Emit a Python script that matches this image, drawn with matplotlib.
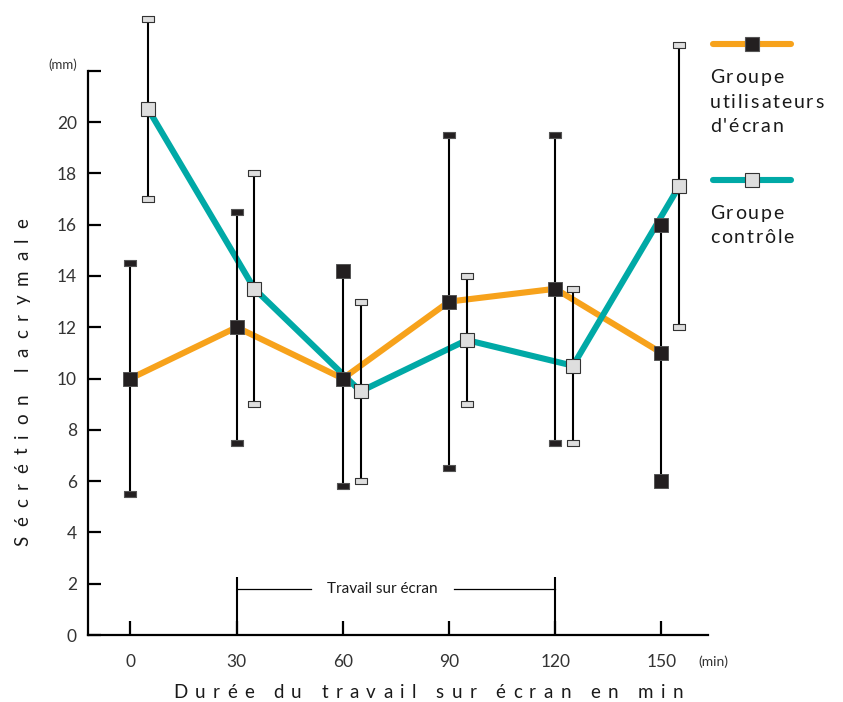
import numpy as np
import matplotlib
matplotlib.use("Agg")
import matplotlib.pyplot as plt
from matplotlib.path import Path
from matplotlib.lines import Line2D

plt.rcParams["font.family"] = ["Lato", "DejaVu Sans"]

# tear secretion (mm) over time, screen users vs. control group
time = [0, 30, 60, 90, 120, 150]
control_time = [5, 35, 65, 95, 125, 155]

screen_mean = [10, 12, 10, 13, 13.5, 11]
screen_low = [5.5, 7.5, 5.8, 6.5, 7.5, 6]
screen_high = [14.5, 16.5, 14.2, 19.5, 19.5, 16]
# ends drawn as full squares instead of flat caps
screen_low_full = [False, False, False, False, False, True]
screen_high_full = [False, False, True, False, False, True]

control_mean = [20.5, 13.5, 9.5, 11.5, 10.5, 17.5]
control_low = [17, 9, 6, 9, 7.5, 12]
control_high = [24, 18, 13, 14, 13.5, 23]

yticks = [0, 2, 4, 6, 8, 10, 12, 14, 16, 18, 20, 22]
ytick_labels = ["0", "2", "4", "6", "8", "10", "12", "14", "16", "18", "20", "(mm)"]
xticks = [0, 30, 60, 90, 120, 150]
work_start, work_end = 30, 120

ORANGE = "#F7A21B"
TEAL = "#00A9A6"
DARK = "#231F20"
LIGHT = "#DEDEDE"
TXT = "#1a1a1a"

W, H = 843, 702
fig = plt.figure(figsize=(W / 100, H / 100), dpi=100)
renderer = fig.canvas.get_renderer()
ax = fig.add_axes([88 / W, 67 / H, 619.5 / W, 635 / H])
ax.set_xlim(-12, 163)
ax.set_ylim(0, 24.76)

for s in ["top", "right"]:
    ax.spines[s].set_visible(False)
ax.spines["left"].set_bounds(0, 22)
ax.spines["left"].set_linewidth(1.6)
ax.spines["bottom"].set_linewidth(1.6)

ax.set_yticks(yticks)
ax.set_yticklabels(ytick_labels)
ax.tick_params(axis="y", direction="in", length=9, width=1.6, pad=8, labelsize=12.5,
               labelcolor="#333333")
ax.get_yticklabels()[-1].set_fontsize(9.5)
ax.get_yticklabels()[-1].set_va("bottom")

ax.set_xticks(xticks)
ax.set_xticklabels([str(t) for t in xticks])
ax.tick_params(axis="x", direction="in", length=10, width=1.6, pad=14, labelsize=12.5,
               labelcolor="#333333")
ax.text(160.5, -1.05, "(min)", fontsize=10, ha="left", va="center", color="#333333",
        clip_on=False)

# screen work bracket
for t in (work_start, work_end):
    ax.plot([t, t], [0, 2.26], color="black", lw=1.5, solid_capstyle="butt")
ax.plot([work_start, 51], [1.8, 1.8], color="black", lw=0.9)
ax.plot([91.5, work_end], [1.8, 1.8], color="black", lw=0.9)
ax.text((work_start + work_end) / 2 - 4, 1.8, "Travail sur écran", fontsize=11,
        ha="center", va="center", color=TXT)

# flat cap marker (2:1 rectangle)
cap = Path([(-1, -0.5), (1, -0.5), (1, 0.5), (-1, 0.5), (-1, -0.5)],
           [Path.MOVETO, Path.LINETO, Path.LINETO, Path.LINETO, Path.CLOSEPOLY])

# mean lines
ax.plot(time, screen_mean, color=ORANGE, lw=4.4, zorder=2, solid_joinstyle="miter")
ax.plot(control_time, control_mean, color=TEAL, lw=4.4, zorder=3, solid_joinstyle="miter")


def draw_errors(xs, lo, hi, face, edge, lo_full=None, hi_full=None):
    for i, x in enumerate(xs):
        ax.plot([x, x], [lo[i], hi[i]], color="black", lw=1.5, zorder=4)
        for val, full in ((lo[i], lo_full and lo_full[i]), (hi[i], hi_full and hi_full[i])):
            if full:
                ax.plot(x, val, marker="s", ms=9.5, mfc=face, mec=edge, mew=0.7,
                        zorder=6, clip_on=False)
            else:
                ax.plot(x, val, marker=cap, ms=9, mfc=face, mec=edge, mew=0.8,
                        zorder=6, clip_on=False)


draw_errors(time, screen_low, screen_high, DARK, "#555555", screen_low_full, screen_high_full)
draw_errors(control_time, control_low, control_high, LIGHT, "#333333")

ax.plot(time, screen_mean, ls="none", marker="s", ms=9.5, mfc=DARK, mec="#555555",
        mew=0.7, zorder=7)
ax.plot(control_time, control_mean, ls="none", marker="s", ms=9.5, mfc=LIGHT,
        mec="#333333", mew=0.8, zorder=7)


def fx(px):
    return px / W


def fy(py):
    return 1 - py / H


def advance(ch, size):
    # horizontal advance of one glyph, in pixels
    if ch == " ":
        a = fig.text(0, 0, "n n", fontsize=size)
        b = fig.text(0, 0, "nn", fontsize=size)
        w = a.get_window_extent(renderer).width - b.get_window_extent(renderer).width
        a.remove()
        b.remove()
        return w
    t = fig.text(0, 0, ch, fontsize=size)
    w = t.get_window_extent(renderer).width
    t.remove()
    return w


def tracked_text(x0, y0, s, size, track, vertical=False, total=None):
    # lay out characters one by one with extra letter spacing (pixels)
    widths = [advance(c, size) for c in s]
    if total is not None:
        track = (total - sum(widths)) / (len(s) - 1)
    pos = 0.0
    for c, w in zip(s, widths):
        if c != " ":
            if vertical:
                fig.text(fx(x0), fy(y0 - pos), c, fontsize=size, rotation=90,
                         rotation_mode="anchor", ha="left", va="baseline", color=TXT)
            else:
                fig.text(fx(x0 + pos), fy(y0), c, fontsize=size, ha="left",
                         va="baseline", color=TXT)
        pos += w + track


# legend drawn in figure pixels
legend_rows = [
    (44, ORANGE, DARK, "#555555", ["Groupe", "utilisateurs", "d'écran"]),
    (180, TEAL, LIGHT, "#333333", ["Groupe", "contrôle"]),
]
for ypix, col, face, edge, lines in legend_rows:
    fig.add_artist(Line2D([fx(713), fx(791)], [fy(ypix), fy(ypix)], color=col, lw=4.4,
                          solid_capstyle="round"))
    fig.add_artist(Line2D([fx(752)], [fy(ypix)], marker="s", ms=9.5, mfc=face, mec=edge,
                          mew=0.8, ls="none"))
    for k, line in enumerate(lines):
        tracked_text(710, ypix + 39 + 24.5 * k, line, 14, 1.8)

tracked_text(173, 698, "Durée du travail sur écran en min", 13.5, 0, total=510)
tracked_text(28, 546, "Sécrétion lacrymale", 13.5, 0, vertical=True, total=328)

fig.savefig("out.png", dpi=100, facecolor="white")
